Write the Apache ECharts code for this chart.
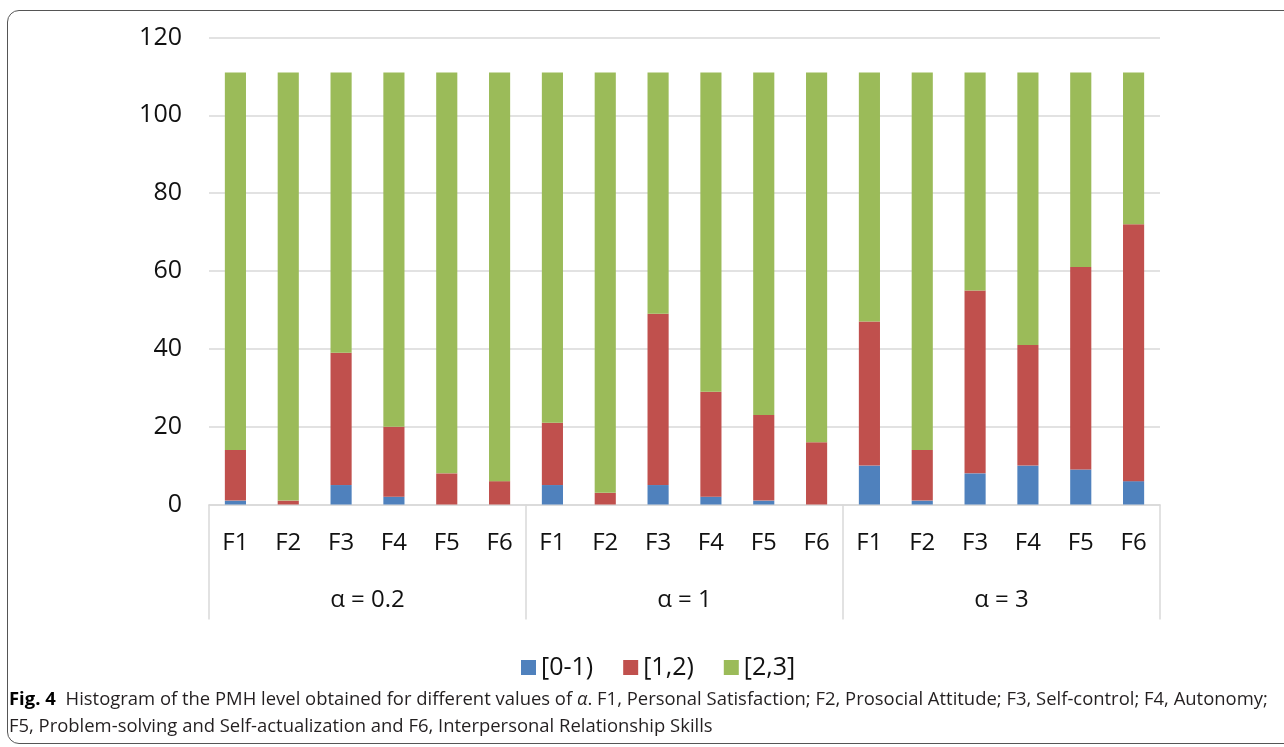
<!DOCTYPE html>
<html>
<head>
<meta charset="utf-8">
<script src="https://cdn.jsdelivr.net/npm/echarts@6/dist/echarts.min.js"></script>
<style>
  html, body { margin: 0; padding: 0; background: #fff; }
  #wrap { position: relative; width: 1284px; height: 747px; overflow: hidden; }
  #frame { position: absolute; left: 7px; top: 10px; width: 1300px; height: 734px;
           border: 1.5px solid #555; border-radius: 12px; box-sizing: border-box; pointer-events: none; }
  #chart { position: absolute; left: 0; top: 0; width: 1284px; height: 747px; }
  #caption { position: absolute; left: 9px; top: 684px; font-family: "Open Sans", sans-serif;
             font-size: 18.45px; line-height: 27px; color: #231f20; white-space: nowrap; }
  #caption b { color: #000; margin-right: 5px; }
</style>
</head>
<body>
<div id="wrap">
  <div id="chart"></div>
  <div id="frame"></div>
  <div id="caption"><b>Fig. 4</b> Histogram of the PMH level obtained for different values of <i>α</i>. F1, Personal Satisfaction; F2, Prosocial Attitude; F3, Self-control; F4, Autonomy;<br>F5, Problem-solving and Self-actualization and F6, Interpersonal Relationship Skills</div>
</div>
<script>
// Factor labels, repeated once per alpha group
const factors = ['F1', 'F2', 'F3', 'F4', 'F5', 'F6'];
const groups = ['α = 0.2', 'α = 1', 'α = 3'];
const categories = groups.flatMap(() => factors);

// Counts of PMH level per interval, 18 bars (3 alpha values x 6 factors)
const level01 = [1, 0, 5, 2, 0, 0,   5, 0, 5, 2, 1, 0,   10, 1, 8, 10, 9, 6];
const level12 = [13, 1, 34, 18, 8, 6,   16, 3, 44, 27, 22, 16,   37, 13, 47, 31, 52, 66];
const level23 = [97, 110, 72, 91, 103, 105,   90, 108, 62, 82, 88, 95,   64, 97, 56, 70, 50, 39];

const seriesNames = ['[0-1)', '[1,2)', '[2,3]'];
const yTicks = { min: 0, max: 120, interval: 20 };

const font = '"Open Sans", sans-serif';
const labelColor = '#111';
const gridColor = '#d9d9d9';

const chart = echarts.init(document.getElementById('chart'));
chart.setOption({
  animation: false,
  color: ['#4F81BD', '#C0504D', '#9BBB59'],
  textStyle: { fontFamily: font },
  grid: { left: 209, right: 124, top: 37.5, bottom: 242.5, containLabel: false },
  legend: {
    data: seriesNames,
    left: 516, top: 650,
    icon: 'rect', itemWidth: 15, itemHeight: 15, itemGap: 30,
    textStyle: { fontSize: 25, color: labelColor, fontFamily: font }
  },
  xAxis: [
    {
      type: 'category', data: categories, position: 'bottom',
      axisLine: { show: true, lineStyle: { color: gridColor, width: 1.5 } },
      axisTick: { show: false },
      axisLabel: { interval: 0, fontSize: 24, color: labelColor, margin: 27, fontFamily: font },
      splitLine: { show: false }
    },
    {
      type: 'category', data: groups, position: 'bottom',
      axisLine: { show: false },
      axisTick: { show: true, interval: 0, length: 115, lineStyle: { color: gridColor, width: 1.5 } },
      axisLabel: { interval: 0, fontSize: 24, color: labelColor, margin: 84, fontFamily: font },
      splitLine: { show: false }
    }
  ],
  yAxis: {
    type: 'value', min: yTicks.min, max: yTicks.max, interval: yTicks.interval,
    axisLine: { show: false }, axisTick: { show: false },
    axisLabel: { fontSize: 25, color: labelColor, margin: 27, fontFamily: font },
    splitLine: { lineStyle: { color: gridColor, width: 1.5 } }
  },
  series: [level01, level12, level23].map((d, i) => ({
    name: seriesNames[i], type: 'bar', stack: 'total', xAxisIndex: 0,
    barWidth: '40%', data: d
  }))
});
</script>
</body>
</html>
